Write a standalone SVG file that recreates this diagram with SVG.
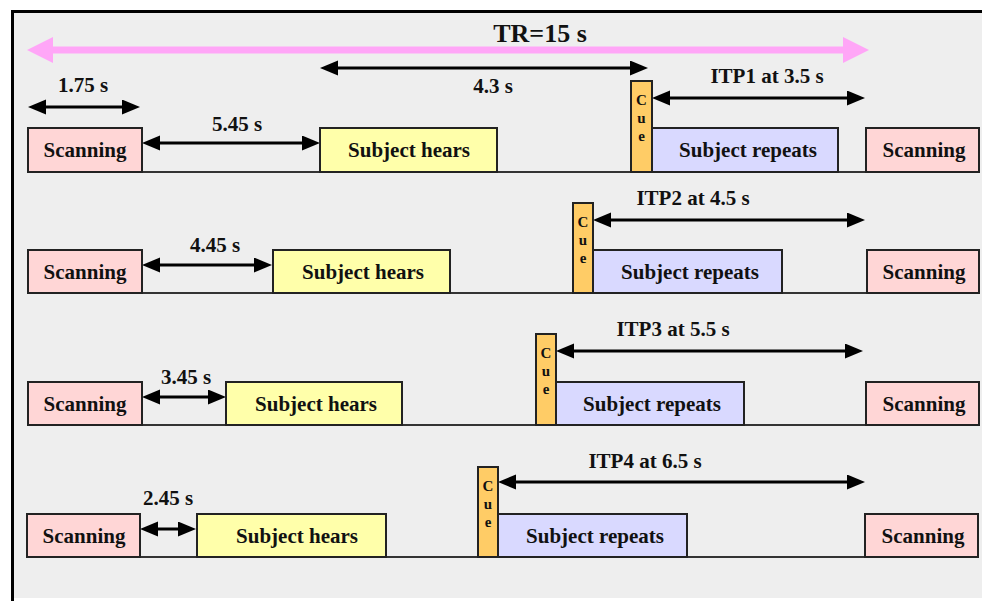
<svg xmlns="http://www.w3.org/2000/svg" width="982" height="601" viewBox="0 0 982 601">
<defs>
<style>
.bg{fill:#eeeeee}
.frame{stroke:#000;stroke-width:3;fill:none}
.base{stroke:#333;stroke-width:2}
.box{stroke:#222;stroke-width:2}
.scan{fill:#ffd6d6}
.hear{fill:#ffffaa}
.rep{fill:#d9d9ff}
.cue{fill:#ffcc66}
.lbl{font-family:"Liberation Serif","Times New Roman",serif;font-weight:bold;font-size:21px;fill:#111;text-anchor:middle}
.cuet{font-family:"Liberation Serif","Times New Roman",serif;font-weight:bold;font-size:15px;fill:#111;text-anchor:middle}
.tr{font-family:"Liberation Serif","Times New Roman",serif;font-weight:bold;font-size:26px;fill:#111;text-anchor:middle}
.arr{stroke:#000;stroke-width:3;marker-start:url(#ah);marker-end:url(#ah)}
.pink{stroke:#ffa6f7;stroke-width:7;marker-start:url(#ph);marker-end:url(#ph)}
</style>
<marker id="ah" markerUnits="userSpaceOnUse" markerWidth="20" markerHeight="16" refX="12" refY="7.5" orient="auto-start-reverse" viewBox="0 0 20 16">
<path d="M0,0 L18,7.5 L0,15 z" fill="#000"/>
</marker>
<marker id="ph" markerUnits="userSpaceOnUse" markerWidth="28" markerHeight="28" refX="17" refY="13" orient="auto-start-reverse" viewBox="0 0 28 28">
<path d="M0,0 L26,13 L0,26 z" fill="#ffa6f7"/>
</marker>
</defs>
<rect x="0" y="0" width="982" height="601" fill="#ffffff"/>
<rect class="bg" x="12" y="11" width="970" height="587"/>
<path class="frame" d="M12.5,601 L12.5,11.5 L982,11.5"/>

<g id="baselines">
<line class="base" x1="28" y1="172" x2="866" y2="172"/>
<line class="base" x1="28" y1="293" x2="867" y2="293"/>
<line class="base" x1="28" y1="425" x2="866" y2="425"/>
<line class="base" x1="27" y1="557" x2="865" y2="557"/>
</g>

<g id="connectors">
<line class="pink" x1="36" y1="50" x2="860" y2="50"/>
<line class="arr" x1="34" y1="107" x2="134" y2="107"/>
<line class="arr" x1="326" y1="68" x2="642" y2="68"/>
<line class="arr" x1="148" y1="143" x2="314" y2="143"/>
<line class="arr" x1="658" y1="98" x2="859" y2="98"/>
<line class="arr" x1="148" y1="265" x2="266" y2="265"/>
<line class="arr" x1="599" y1="220" x2="859" y2="220"/>
<line class="arr" x1="148" y1="397" x2="220" y2="397"/>
<line class="arr" x1="562" y1="351" x2="857" y2="351"/>
<line class="arr" x1="146" y1="529" x2="190" y2="529"/>
<line class="arr" x1="504" y1="482" x2="859" y2="482"/>
</g>

<g id="labels">
<text class="tr" x="540" y="42">TR=15 s</text>
<text class="lbl" x="83" y="92">1.75 s</text>
<text class="lbl" x="493" y="93">4.3 s</text>
<text class="lbl" x="237" y="131">5.45 s</text>
<text class="lbl" x="767" y="83">ITP1 at 3.5 s</text>
<text class="lbl" x="215" y="252">4.45 s</text>
<text class="lbl" x="693" y="205">ITP2 at 4.5 s</text>
<text class="lbl" x="186" y="384">3.45 s</text>
<text class="lbl" x="673" y="336">ITP3 at 5.5 s</text>
<text class="lbl" x="168" y="505">2.45 s</text>
<text class="lbl" x="645" y="468">ITP4 at 6.5 s</text>
</g>

<!-- Row 1 -->
<g id="r1-scan-l"><rect class="box scan" x="28" y="128" width="114" height="44"/><text class="lbl" x="85" y="157">Scanning</text></g>
<g id="r1-hears"><rect class="box hear" x="320" y="128" width="177" height="44"/><text class="lbl" x="409" y="157">Subject hears</text></g>
<g id="r1-cue"><rect class="box cue" x="631" y="81" width="21" height="91"/><text class="cuet" x="641.5" y="105">C</text><text class="cuet" x="641.5" y="123">u</text><text class="cuet" x="641.5" y="141">e</text></g>
<g id="r1-repeats"><rect class="box rep" x="652" y="128" width="186" height="44"/><text class="lbl" x="748" y="157">Subject repeats</text></g>
<g id="r1-scan-r"><rect class="box scan" x="866" y="128" width="113" height="44"/><text class="lbl" x="924" y="157">Scanning</text></g>

<!-- Row 2 -->
<g id="r2-scan-l"><rect class="box scan" x="28" y="250" width="114" height="43"/><text class="lbl" x="85" y="279">Scanning</text></g>
<g id="r2-hears"><rect class="box hear" x="273" y="250" width="177" height="43"/><text class="lbl" x="363" y="279">Subject hears</text></g>
<g id="r2-cue"><rect class="box cue" x="573" y="203" width="20" height="90"/><text class="cuet" x="583" y="227">C</text><text class="cuet" x="583" y="245">u</text><text class="cuet" x="583" y="263">e</text></g>
<g id="r2-repeats"><rect class="box rep" x="593" y="250" width="189" height="43"/><text class="lbl" x="690" y="279">Subject repeats</text></g>
<g id="r2-scan-r"><rect class="box scan" x="867" y="250" width="112" height="43"/><text class="lbl" x="924" y="279">Scanning</text></g>

<!-- Row 3 -->
<g id="r3-scan-l"><rect class="box scan" x="28" y="382" width="114" height="43"/><text class="lbl" x="85" y="411">Scanning</text></g>
<g id="r3-hears"><rect class="box hear" x="226" y="382" width="176" height="43"/><text class="lbl" x="316" y="411">Subject hears</text></g>
<g id="r3-cue"><rect class="box cue" x="536" y="334" width="20" height="91"/><text class="cuet" x="546" y="358">C</text><text class="cuet" x="546" y="376">u</text><text class="cuet" x="546" y="394">e</text></g>
<g id="r3-repeats"><rect class="box rep" x="556" y="382" width="188" height="43"/><text class="lbl" x="652" y="411">Subject repeats</text></g>
<g id="r3-scan-r"><rect class="box scan" x="866" y="382" width="113" height="43"/><text class="lbl" x="924" y="411">Scanning</text></g>

<!-- Row 4 -->
<g id="r4-scan-l"><rect class="box scan" x="27" y="514" width="113" height="43"/><text class="lbl" x="84" y="543">Scanning</text></g>
<g id="r4-hears"><rect class="box hear" x="197" y="514" width="189" height="43"/><text class="lbl" x="297" y="543">Subject hears</text></g>
<g id="r4-cue"><rect class="box cue" x="478" y="467" width="20" height="90"/><text class="cuet" x="488" y="491">C</text><text class="cuet" x="488" y="509">u</text><text class="cuet" x="488" y="527">e</text></g>
<g id="r4-repeats"><rect class="box rep" x="498" y="514" width="189" height="43"/><text class="lbl" x="595" y="543">Subject repeats</text></g>
<g id="r4-scan-r"><rect class="box scan" x="865" y="514" width="113" height="43"/><text class="lbl" x="923" y="543">Scanning</text></g>
</svg>
